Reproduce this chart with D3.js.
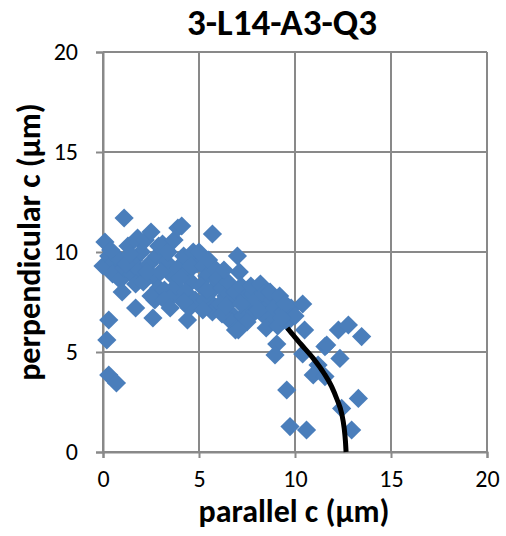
<!DOCTYPE html>
<html><head><meta charset="utf-8">
<script src="https://cdn.jsdelivr.net/npm/d3@7"></script>
<style>body{margin:0;background:#fff;} svg{display:block;}</style>
</head><body>
<svg id="c" width="506" height="536"></svg>
<script>
const title = "3-L14-A3-Q3";
const xLabel = "parallel c (µm)";
const yLabel = "perpendicular c (µm)";
const xTicks = [0, 5, 10, 15, 20];
const yTicks = [0, 5, 10, 15, 20];

// scatter points [parallel, perpendicular]
const points = [
  [0.1,10.5],[0.0,9.3],[0.3,9.8],[0.6,9.5],[0.8,9.7],[0.5,8.9],[0.9,8.6],[1.0,8.0],[1.1,9.2],[0.4,10.1],
  [1.3,10.3],[1.6,9.6],[1.8,10.7],[1.5,8.9],[1.9,9.1],[1.2,9.4],[1.7,8.4],[1.7,7.2],[2.0,10.0],[1.4,9.9],
  [2.2,10.6],[2.5,11.0],[2.4,9.4],[2.6,8.8],[2.1,8.5],[2.8,9.8],[2.9,8.2],[2.7,7.6],[2.6,6.7],[2.3,9.0],[2.9,10.3],[2.5,7.8],
  [3.1,10.4],[3.3,9.5],[3.5,8.9],[3.2,8.1],[3.6,7.8],[3.8,8.3],[3.9,9.2],[3.4,10.0],[3.7,10.6],[3.0,9.0],[3.9,11.2],[3.2,7.6],[3.5,7.2],
  [4.1,11.3],[4.2,9.8],[4.4,9.0],[4.6,8.5],[4.3,8.0],[4.8,7.6],[4.5,7.2],[4.4,6.6],[4.9,9.4],[4.7,10.0],[4.0,8.7],[4.6,9.3],[4.2,7.5],
  [5.0,10.0],[5.2,9.3],[5.4,8.8],[5.1,8.3],[5.6,8.0],[5.3,7.6],[5.8,7.3],[5.7,7.0],[5.5,9.6],[5.9,8.6],[5.2,7.1],[5.7,10.9],[5.9,9.1],[5.4,8.1],
  [6.0,8.7],[6.2,8.2],[6.4,7.8],[6.1,7.4],[6.6,7.0],[6.8,7.7],[6.5,8.5],[6.3,9.1],[6.9,8.0],[6.7,6.5],[6.2,6.9],[6.9,6.1],[6.4,7.3],
  [7.0,9.8],[7.1,9.0],[7.2,8.3],[7.4,7.7],[7.6,7.2],[7.3,6.8],[7.8,7.9],[7.9,7.0],[7.5,6.5],[7.7,8.3],[7.05,6.1],[7.2,7.4],
  [8.0,7.6],[8.2,8.4],[8.4,7.9],[8.6,7.3],[8.3,6.9],[8.8,7.6],[8.9,6.6],[8.5,6.2],[8.1,7.1],[8.7,8.0],[8.9,7.2],
  [9.2,7.8],[9.4,7.0],[9.6,6.5],[9.1,6.3],[9.8,7.2],[9.5,7.4],[10.0,6.8],[10.4,7.4],[10.5,6.1],[9.3,6.7],[9.05,5.4],
  [1.1,11.7],[0.3,6.6],[0.2,5.6],[0.3,3.85],[0.7,3.45],[8.96,4.85],[10.4,4.9],[11.56,5.27],[12.26,6.1],[12.78,6.35],
  [13.47,5.77],[12.34,4.68],[11.2,4.35],[10.95,3.85],[11.56,3.77],[9.57,3.1],[13.3,2.68],[12.43,2.18],[9.74,1.27],
  [10.6,1.1],[12.95,1.1],[11.65,5.35]
];

// fitted boundary curve [parallel, perpendicular]
const curve = [
  [9.6,6.2],[9.83,5.93],[10.3,5.4],[10.95,4.68],[11.5,3.95],[11.91,3.27],
  [12.2,2.6],[12.43,1.93],[12.56,1.2],[12.63,0.5],[12.66,0]
];

const svg = d3.select("#c");
const font = "Carlito, Calibri, Lato, sans-serif";
const x = d3.scaleLinear().domain([0,20]).range([103,487]);
const y = d3.scaleLinear().domain([0,20]).range([452,52]);
const grid = "#898989";

// gridlines
svg.append("g").selectAll("line").data(yTicks).join("line")
  .attr("x1", x(0)).attr("x2", x(20))
  .attr("y1", d=>y(d)).attr("y2", d=>y(d))
  .attr("stroke", grid).attr("stroke-width", 2);
svg.append("g").selectAll("line").data(xTicks).join("line")
  .attr("y1", y(0)).attr("y2", y(20))
  .attr("x1", d=>x(d)).attr("x2", d=>x(d))
  .attr("stroke", grid).attr("stroke-width", 2);

// axes
const xAxis = d3.axisBottom(x).tickValues(xTicks).tickSize(6).tickPadding(12);
const yAxis = d3.axisLeft(y).tickValues(yTicks).tickSize(7).tickPadding(18);
const gx = svg.append("g").attr("transform", `translate(0,${y(0)})`).call(xAxis);
const gy = svg.append("g").attr("transform", `translate(${x(0)},0)`).call(yAxis);
[gx, gy].forEach(g => {
  g.select(".domain").attr("stroke", grid).attr("stroke-width", 2);
  g.selectAll(".tick line").attr("stroke", grid).attr("stroke-width", 2);
  g.selectAll(".tick text").attr("font-family", font).attr("font-size", 24).attr("fill", "#000");
});

// points
svg.append("g").selectAll("path").data(points).join("path")
  .attr("d", d3.symbol().type(d3.symbolSquare).size(185))
  .attr("transform", d => `translate(${x(d[0])},${y(d[1])}) rotate(45)`)
  .attr("fill", "#4A7EBB");

// curve
svg.append("path").datum(curve)
  .attr("d", d3.line().x(d=>x(d[0])).y(d=>y(d[1])).curve(d3.curveMonotoneX))
  .attr("fill", "none").attr("stroke", "#000").attr("stroke-width", 5);

// title & labels
svg.append("text").attr("x", 282).attr("y", 35).attr("text-anchor", "middle")
  .attr("font-family", font).attr("font-weight", "bold").attr("font-size", 37).text(title);
svg.append("text").attr("x", 294).attr("y", 522).attr("text-anchor", "middle")
  .attr("font-family", font).attr("font-weight", "bold").attr("font-size", 32).text(xLabel);
svg.append("text").attr("transform", "translate(40,242) rotate(-90)").attr("text-anchor", "middle")
  .attr("font-family", font).attr("font-weight", "bold").attr("font-size", 32).text(yLabel);
</script>
</body></html>
